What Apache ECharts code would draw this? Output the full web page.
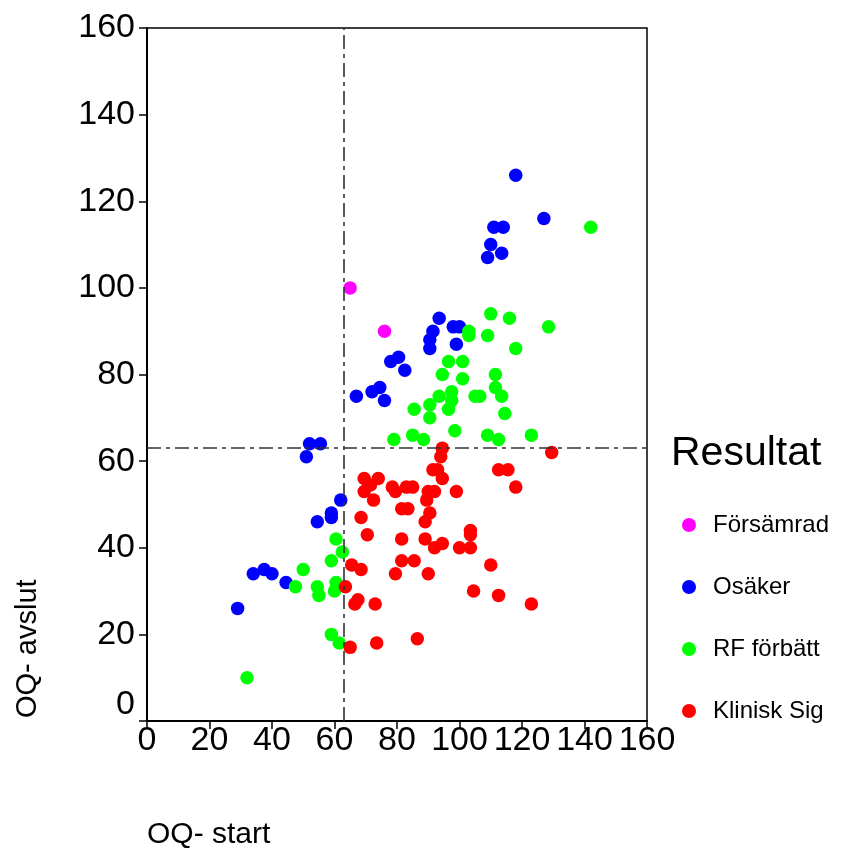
<!DOCTYPE html>
<html>
<head>
<meta charset="utf-8">
<script src="https://cdn.jsdelivr.net/npm/echarts@6/dist/echarts.min.js"></script>
<style>html,body{margin:0;padding:0;background:#fff;}#c{width:844px;height:848px;}</style>
</head>
<body>
<div id="c"></div>
<script>
const seriesNames = ['Försämrad', 'Osäker', 'RF förbätt', 'Klinisk Sig'];
const seriesColors = ['#ff00ff', '#0000ff', '#00ff00', '#ff0000'];
const xTicks = [0, 20, 40, 60, 80, 100, 120, 140, 160];
const yTicks = [0, 20, 40, 60, 80, 100, 120, 140, 160];
const cutoffX = 63;
const cutoffY = 63;

const forsamrad = [[65,100],[76,90]];
const osaker = [
  [118,126],[127,116],[111,114],[114,114],[110,110],[113.5,108],[109,107],
  [93.5,93],[98,91],[100,91],[91.5,90],[90.5,88],[90.5,86],[99,87],
  [80.5,84],[78,83],[82.5,81],[74.5,77],[72,76],[67,75],[76,74],
  [52,64],[55.5,64],[51,61],[62,51],[59,48],[59,47],[54.5,46],
  [34,34],[37.5,35],[40,34],[44.5,32],[29,26]
];
const rfForbatt = [
  [142,114],[110,94],[116,93],[128.5,91],[103,90],[103,89],[109,89],[118,86],
  [96.5,83],[101,83],[94.5,80],[101,79],[111.5,80],[111.5,77],[113.5,75],
  [97.5,76],[93.5,75],[97.5,74],[105,75],[106.5,75],[90.5,73],[85.5,72],[96.5,72],
  [90.5,70],[114.5,71],[98.5,67],[85,66],[88.5,65],[79,65],[109,66],[112.5,65],[123,66],
  [60.5,42],[62.5,39],[59,37],[50,35],[47.5,31],[54.5,31],[60.5,32],[60,30],[55,29],
  [59,20],[61.5,18],[32,10]
];
const kliniskSig = [
  [94.5,63],[94,61],[91.5,58],[93,58],[94.5,56],[129.5,62],[112.5,58],[115.5,58],
  [69.5,56],[74,56],[71.5,54.5],[69.5,53],[72.5,51],[78.5,54],[79.5,53],[83,54],[85,54],
  [90,53],[92,53],[99,53],[118,54],[89.5,51],[81.5,49],[83.5,49],[90.5,48],[89,46],[68.5,47],
  [103.5,44],[103.5,43],[70.5,43],[81.5,42],[89,42],[92,40],[94.5,41],[100,40],[103.5,40],
  [81.5,37],[85.5,37],[65.5,36],[68.5,35],[79.5,34],[90,34],[110,36],[63.5,31],
  [104.5,30],[112.5,29],[67.5,28],[66.5,27],[73,27],[123,27],[65,17],[73.5,18],[86.5,19]
];
const allData = [forsamrad, osaker, rfForbatt, kliniskSig];

const FONT = '"Liberation Sans", Arial, sans-serif';
const chart = echarts.init(document.getElementById('c'), null, {renderer: 'canvas'});

const series = seriesNames.map((name, i) => ({
  name: name,
  type: 'scatter',
  data: allData[i],
  symbol: 'circle',
  symbolSize: 13.5,
  itemStyle: {color: seriesColors[i], opacity: 1},
  z: 3
}));
series.push({
  name: 'ref',
  type: 'scatter',
  data: [],
  silent: true,
  markLine: {
    silent: true,
    symbol: 'none',
    label: {show: false},
    lineStyle: {color: '#333', width: 1.6, type: [14, 5, 4, 5]},
    data: [{xAxis: cutoffX}, {yAxis: cutoffY}]
  },
  z: 2
});

chart.setOption({
  animation: false,
  backgroundColor: '#fff',
  textStyle: {fontFamily: FONT},
  title: {
    text: 'Resultat', left: 666, top: 428,
    textStyle: {fontFamily: FONT, fontSize: 41, fontWeight: 'normal', color: '#000'}
  },
  legend: {
    data: seriesNames,
    orient: 'vertical',
    left: 677, top: 508,
    icon: 'circle',
    itemWidth: 14, itemHeight: 14,
    itemGap: 38,
    textStyle: {fontFamily: FONT, fontSize: 24, color: '#000', padding: [0, 0, 0, 12]}
  },
  grid: {
    left: 147, top: 28, width: 500, height: 693,
    show: true, borderColor: '#000', borderWidth: 1.5, backgroundColor: 'transparent'
  },
  xAxis: {
    type: 'value', min: 0, max: 160, interval: 20,
    axisLine: {show: true, onZero: false, lineStyle: {color: '#000', width: 2}},
    axisTick: {show: true, length: 8, lineStyle: {color: '#000', width: 1.5}},
    axisLabel: {
      fontFamily: FONT, fontSize: 34, color: '#000', margin: 3,
      formatter: v => xTicks.includes(v) ? String(v) : ''
    },
    splitLine: {show: false}
  },
  yAxis: {
    type: 'value', min: 0, max: 160, interval: 20,
    axisLine: {show: true, onZero: false, lineStyle: {color: '#000', width: 2}},
    axisTick: {show: true, length: 8, lineStyle: {color: '#000', width: 1.5}},
    axisLabel: {
      fontFamily: FONT, fontSize: 34, color: '#000', margin: 12,
      formatter: v => !yTicks.includes(v) ? '' : (v === 0 ? '{z|0}' : String(v)),
      rich: {z: {fontFamily: FONT, fontSize: 34, color: '#000', padding: [0, 0, 32, 0]}}
    },
    splitLine: {show: false}
  },
  graphic: [
    {
      type: 'text', left: 147, top: 820,
      style: {text: 'OQ- start', fontFamily: FONT, fontSize: 30, fill: '#000'}
    },
    {
      type: 'text', x: 13, y: 718, rotation: Math.PI / 2,
      style: {text: 'OQ- avslut', fontFamily: FONT, fontSize: 29, fill: '#000', textVerticalAlign: 'top'}
    }
  ],
  series: series
});
</script>
</body>
</html>
